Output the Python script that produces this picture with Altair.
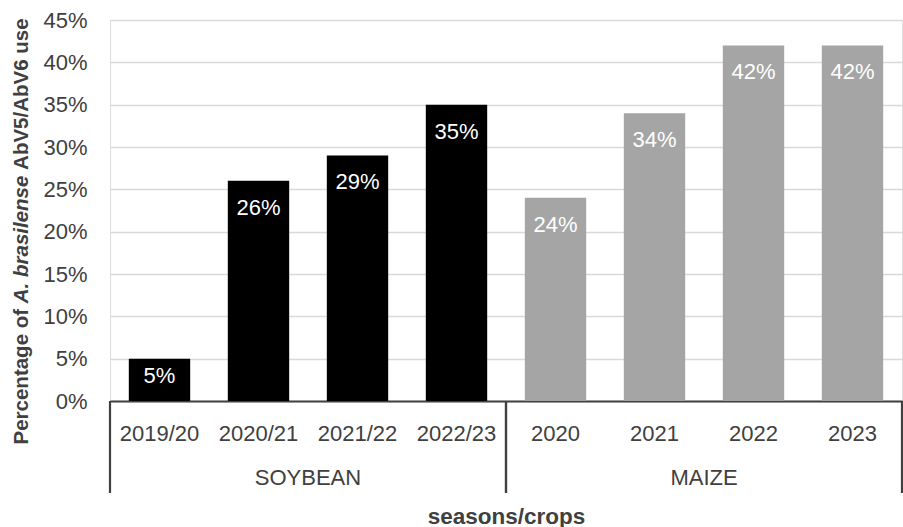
import altair as alt
import pandas as pd

# --- data -------------------------------------------------------------
seasons = ["2019/20", "2020/21", "2021/22", "2022/23", "2020", "2021", "2022", "2023"]
season_crop = ["SOYBEAN"] * 4 + ["MAIZE"] * 4
adoption_pct = [5, 26, 29, 35, 24, 34, 42, 42]

crop_names = ["SOYBEAN", "MAIZE"]
crop_colors = ["#000000", "#a5a5a5"]
crop_first = ["2019/20", "2020"]
crop_second = ["2020/21", "2021"]
crop_last = ["2022/23", "2023"]

y_ticks = [0, 5, 10, 15, 20, 25, 30, 35, 40, 45]
y_title_parts = ["Percentage of", "A. brasilense", "AbV5/AbV6 use"]
x_title = "seasons/crops"

df = pd.DataFrame({"season": seasons, "crop": season_crop, "pct": adoption_pct})
groups = pd.DataFrame({"crop": crop_names, "first": crop_first,
                       "second": crop_second, "last": crop_last})

FONT = "Liberation Sans"
INK = "#404040"
W, H = 792, 381
LBL = 22

x_scale = alt.Scale(domain=seasons, paddingInner=0, paddingOuter=0)
y_scale = alt.Scale(domain=[0, 45], nice=False)

x_axis = alt.Axis(
    labelAngle=0, labelFontSize=LBL, labelColor=INK, labelPadding=32,
    labelBaseline="middle", ticks=False, grid=False,
    domainColor=INK, domainWidth=2,
    titleFontSize=22.5, titleFontWeight="bold", titleColor=INK,
    titleY=115, titleBaseline="middle",
)
y_axis = alt.Axis(
    values=y_ticks, labelExpr="datum.value + '%'", labelFontSize=LBL,
    labelColor=INK, labelPadding=23, ticks=False, domain=False,
    grid=True, gridColor="#d9d9d9", gridWidth=1.3,
)


def xenc(field, **kw):
    return alt.X(f"{field}:N", scale=x_scale, axis=x_axis, title=x_title, **kw)


def yenc(field):
    return alt.Y(f"{field}:Q", scale=y_scale, axis=y_axis, title=None)


base = alt.Chart(df)

bars = base.mark_bar(width={"band": 0.62}).encode(
    x=xenc("season"),
    y=yenc("pct"),
    color=alt.Color("crop:N", scale=alt.Scale(domain=crop_names, range=crop_colors),
                    legend=None),
)

# value labels: inside the top of tall bars, centred in short ones
labels_tall = base.transform_filter("datum.pct >= 10").transform_calculate(
    label="datum.pct + '%'"
).mark_text(color="white", fontSize=LBL, baseline="middle", dy=27, font=FONT).encode(
    x=xenc("season"),
    y=yenc("pct"),
    text="label:N",
)
labels_short = base.transform_filter("datum.pct < 10").transform_calculate(
    label="datum.pct + '%'", half="datum.pct / 2"
).mark_text(color="white", fontSize=LBL, baseline="middle", dy=-4, font=FONT).encode(
    x=xenc("season"),
    y=yenc("half"),
    text="label:N",
)

# crop group brackets and names under the season labels
g = alt.Chart(groups)
rule_left = g.mark_rule(color=INK, strokeWidth=2.2).encode(
    x=xenc("first", bandPosition=0),
    y=alt.value(H), y2=alt.value(H + 92),
)
rule_right = g.mark_rule(color=INK, strokeWidth=2.2).encode(
    x=xenc("last", bandPosition=1),
    y=alt.value(H), y2=alt.value(H + 92),
)
group_names = g.mark_text(fontSize=LBL, color=INK, baseline="middle", font=FONT).encode(
    x=xenc("second", bandPosition=1),
    y=alt.value(H + 77),
    text="crop:N",
)

# y title in three pieces so the species name can be italic
seg_style = [("normal", 424.5), ("italic", 283.2), ("normal", 149.9)]
title_layers = []
for part, (style, ypos) in zip(y_title_parts, seg_style):
    title_layers.append(
        alt.Chart(pd.DataFrame({"t": [part]})).mark_text(
            angle=270, align="left", baseline="alphabetic", fontSize=20.5,
            fontWeight="bold", fontStyle=style, color=INK, font=FONT,
        ).encode(x=alt.value(-82), y=alt.value(ypos), text="t:N")
    )

chart = alt.layer(
    bars, labels_tall, labels_short, rule_left, rule_right, group_names, *title_layers
).properties(
    width=W, height=H,
    autosize=alt.AutoSizeParams(type="none"),
    padding={"left": 110, "top": 20, "right": 1, "bottom": 126},
).configure_view(stroke=None).configure(font=FONT)

chart.save("out.html", embed_options={"renderer": "svg", "actions": False})
